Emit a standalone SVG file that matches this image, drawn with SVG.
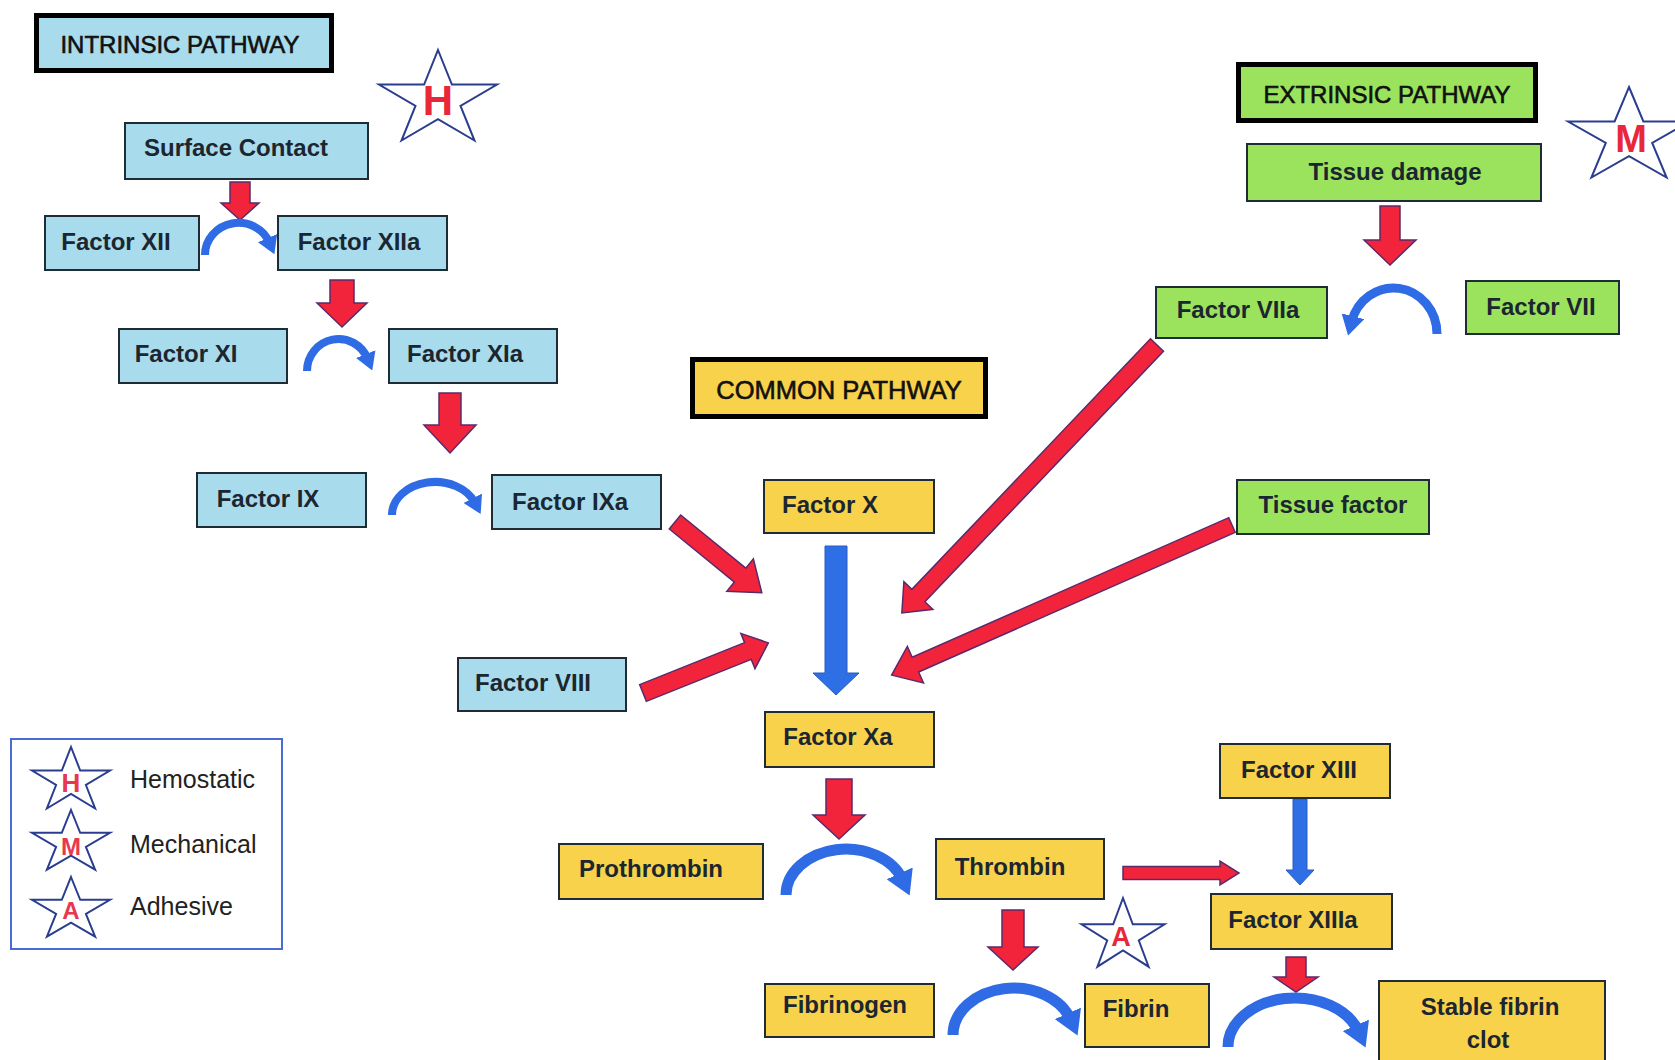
<svg xmlns="http://www.w3.org/2000/svg" width="1675" height="1060" viewBox="0 0 1675 1060">
<style>
text{font-family:"Liberation Sans",Arial,sans-serif;fill:#1c2630}
.lbl{font-size:24px;font-weight:bold;text-anchor:middle}
.hdr{font-size:24px;text-anchor:middle;fill:#111;stroke:#111;stroke-width:0.6}
.leg{font-size:25px;fill:#222}
.blue{fill:#a8dbeb;stroke:#1f2c36;stroke-width:2}
.green{fill:#9be35c;stroke:#1f2c36;stroke-width:2}
.yellow{fill:#f8d24a;stroke:#1f2c36;stroke-width:2}
.hb{stroke:#000;stroke-width:5}
.red{fill:#f2243c;stroke:#5b2a6a;stroke-width:1.5}
.barr{fill:#2f6fe6;stroke:#2a5cc0;stroke-width:1}
.arc{fill:none;stroke:#2f6be4;marker-end:url(#ah)}
.star{fill:#fff;stroke:#2b3d8f;stroke-width:2}
.sl{font-weight:bold;fill:#e8283a;text-anchor:middle}
</style>
<defs>
<marker id="ah" viewBox="0 0 10 10" refX="3" refY="5" markerWidth="2.2" markerHeight="2.6" markerUnits="strokeWidth" orient="auto" preserveAspectRatio="none">
<path d="M0,0 L10,5 L0,10 z" fill="#2f6be4"/>
</marker>
</defs>
<rect width="1675" height="1060" fill="#fff"/>

<g id="connectors">
<polygon class="red" points="230,182 250,182 250,203 259,203 240,220 221,203 230,203"/>
<polygon class="red" points="330,280 354,280 354,303 367,303 342,327 317,303 330,303"/>
<polygon class="red" points="439,393 461,393 461,425 476,425 450,453 424,425 439,425"/>
<polygon class="red" points="1380,206 1400,206 1400,240 1416,240 1390,265 1364,240 1380,240"/>
<polygon class="red" points="826,779 852,779 852,815 865,815 839,839 813,815 826,815"/>
<polygon class="red" points="1002,910 1024,910 1024,947 1038,947 1013,970 988,947 1002,947"/>
<polygon class="red" points="1286,957 1306,957 1306,977 1318,977 1296,992 1274,977 1286,977"/>
<polygon class="red" points="1123,866.5 1220,866.5 1220,861 1239,873 1220,885 1220,879.5 1123,879.5"/>
<polygon class="red" transform="translate(675,522) rotate(39.2)" points="0,-9 84,-9 84,-21 112,0 84,21 84,9 0,9"/>
<polygon class="red" transform="translate(643,693) rotate(-21.8)" points="0,-9 113,-9 113,-19 135,0 113,19 113,9 0,9"/>
<polygon class="red" transform="translate(1157,345) rotate(133.6)" points="0,-9 346,-9 346,-20 370,0 346,20 346,9 0,9"/>
<polygon class="red" transform="translate(1232,525) rotate(156.2)" points="0,-8 346,-8 346,-20 372,0 346,20 346,8 0,8"/>
<polygon class="barr" points="825,546 847,546 847,673 859,673 836,695 813,673 825,673"/>
<polygon class="barr" points="1293,799 1307,799 1307,870 1314,870 1300,885 1286,870 1293,870"/>
<path class="arc" stroke-width="8" d="M205,255 A33.5,32 0 0 1 269.6,243"/>
<path class="arc" stroke-width="8" d="M307,371 A31.5,32 0 0 1 367.7,359"/>
<path class="arc" stroke-width="8" d="M392,515 A43,33 0 0 1 475.1,503"/>
<path class="arc" stroke-width="9" d="M1437,334 A43.5,46 0 0 0 1351.5,322"/>
<path class="arc" stroke-width="11" d="M786,895 A60,46 0 0 1 902.7,880"/>
<path class="arc" stroke-width="11" d="M953,1035 A60.5,47 0 0 1 1070.8,1020"/>
<path class="arc" stroke-width="11" d="M1228,1047 A67,49 0 0 1 1358.8,1032"/>
</g>

<g id="intrinsic-header"><rect class="blue hb" x="36.5" y="15.5" width="295" height="55"/><text class="hdr" x="180" y="53">INTRINSIC PATHWAY</text></g>
<g id="surface-contact"><rect class="blue" x="125" y="123" width="243" height="56"/><text class="lbl" x="236" y="156">Surface Contact</text></g>
<g id="factor-xii"><rect class="blue" x="45" y="216" width="154" height="54"/><text class="lbl" x="116" y="250">Factor XII</text></g>
<g id="factor-xiia"><rect class="blue" x="278" y="216" width="169" height="54"/><text class="lbl" x="359" y="250">Factor XIIa</text></g>
<g id="factor-xi"><rect class="blue" x="119" y="329" width="168" height="54"/><text class="lbl" x="186" y="362">Factor XI</text></g>
<g id="factor-xia"><rect class="blue" x="389" y="329" width="168" height="54"/><text class="lbl" x="465" y="362">Factor XIa</text></g>
<g id="factor-ix"><rect class="blue" x="197" y="473" width="169" height="54"/><text class="lbl" x="268" y="507">Factor IX</text></g>
<g id="factor-ixa"><rect class="blue" x="492" y="475" width="169" height="54"/><text class="lbl" x="570" y="510">Factor IXa</text></g>
<g id="factor-viii"><rect class="blue" x="458" y="658" width="168" height="53"/><text class="lbl" x="533" y="691">Factor VIII</text></g>

<g id="extrinsic-header"><rect class="green hb" x="1238.5" y="64.5" width="297" height="56"/><text class="hdr" x="1387" y="103">EXTRINSIC PATHWAY</text></g>
<g id="tissue-damage"><rect class="green" x="1247" y="144" width="294" height="57"/><text class="lbl" x="1395" y="180">Tissue damage</text></g>
<g id="factor-viia"><rect class="green" x="1156" y="287" width="171" height="51"/><text class="lbl" x="1238" y="318">Factor VIIa</text></g>
<g id="factor-vii"><rect class="green" x="1466" y="281" width="153" height="53"/><text class="lbl" x="1541" y="315">Factor VII</text></g>
<g id="tissue-factor"><rect class="green" x="1237" y="480" width="192" height="54"/><text class="lbl" x="1333" y="513">Tissue factor</text></g>

<g id="common-header"><rect class="yellow hb" x="692.5" y="359.5" width="293" height="57"/><text class="hdr" x="839" y="399" style="font-size:25.5px">COMMON PATHWAY</text></g>
<g id="factor-x"><rect class="yellow" x="764" y="480" width="170" height="53"/><text class="lbl" x="830" y="513">Factor X</text></g>
<g id="factor-xa"><rect class="yellow" x="765" y="712" width="169" height="55"/><text class="lbl" x="838" y="745">Factor Xa</text></g>
<g id="factor-xiii"><rect class="yellow" x="1220" y="744" width="170" height="54"/><text class="lbl" x="1299" y="778">Factor XIII</text></g>
<g id="prothrombin"><rect class="yellow" x="559" y="844" width="204" height="55"/><text class="lbl" x="651" y="877">Prothrombin</text></g>
<g id="thrombin"><rect class="yellow" x="936" y="839" width="168" height="60"/><text class="lbl" x="1010" y="875">Thrombin</text></g>
<g id="factor-xiiia"><rect class="yellow" x="1211" y="894" width="181" height="55"/><text class="lbl" x="1293" y="928">Factor XIIIa</text></g>
<g id="fibrinogen"><rect class="yellow" x="765" y="984" width="169" height="53"/><text class="lbl" x="845" y="1013">Fibrinogen</text></g>
<g id="fibrin"><rect class="yellow" x="1085" y="984" width="124" height="63"/><text class="lbl" x="1136" y="1017">Fibrin</text></g>
<g id="stable-fibrin-clot"><rect class="yellow" x="1379" y="981" width="226" height="90"/><text class="lbl" x="1490" y="1015">Stable fibrin</text><text class="lbl" x="1488" y="1048">clot</text></g>

<g id="star-h"><polygon class="star" points="438,50 451.9,84.5 497,84.5 460.5,105.9 474.5,140.5 438,119.1 401.5,140.5 415.5,105.9 379,84.5 424.1,84.5"/><text class="sl" x="438" y="115" style="font-size:42px">H</text></g>
<g id="star-m"><polygon class="star" points="1629,87 1643.4,121.5 1689.9,121.5 1652.2,142.9 1666.6,177.5 1629,156.1 1591.4,177.5 1605.8,142.9 1568.1,121.5 1614.6,121.5"/><text class="sl" x="1631" y="152" style="font-size:38px">M</text></g>
<g id="star-a"><polygon class="star" points="1123,898 1132.8,924.3 1164.5,924.3 1138.8,940.5 1148.6,966.7 1123,950.5 1097.4,966.7 1107.2,940.5 1081.5,924.3 1113.2,924.3"/><text class="sl" x="1121" y="946" style="font-size:27px">A</text></g>

<g id="legend">
<rect x="11" y="739" width="271" height="210" fill="#fff" stroke="#4a6bd6" stroke-width="2"/>
<polygon class="star" points="71,747 80.2,770.5 110,770.5 85.9,785 95.1,808.5 71,794 46.9,808.5 56.1,785 32,770.5 61.8,770.5"/>
<text class="sl" x="71" y="792" style="font-size:26px;fill:#e8384f">H</text>
<text class="leg" x="130" y="788">Hemostatic</text>
<polygon class="star" points="71,810 80.2,832.8 110,832.8 85.9,846.9 95.1,869.7 71,855.6 46.9,869.7 56.1,846.9 32,832.8 61.8,832.8"/>
<text class="sl" x="71" y="855" style="font-size:24px;fill:#e8384f">M</text>
<text class="leg" x="130" y="853">Mechanical</text>
<polygon class="star" points="71,877 80.2,899.8 110,899.8 85.9,913.9 95.1,936.7 71,922.6 46.9,936.7 56.1,913.9 32,899.8 61.8,899.8"/>
<text class="sl" x="71" y="919" style="font-size:24px;fill:#e8384f">A</text>
<text class="leg" x="130" y="915">Adhesive</text>
</g>
</svg>
